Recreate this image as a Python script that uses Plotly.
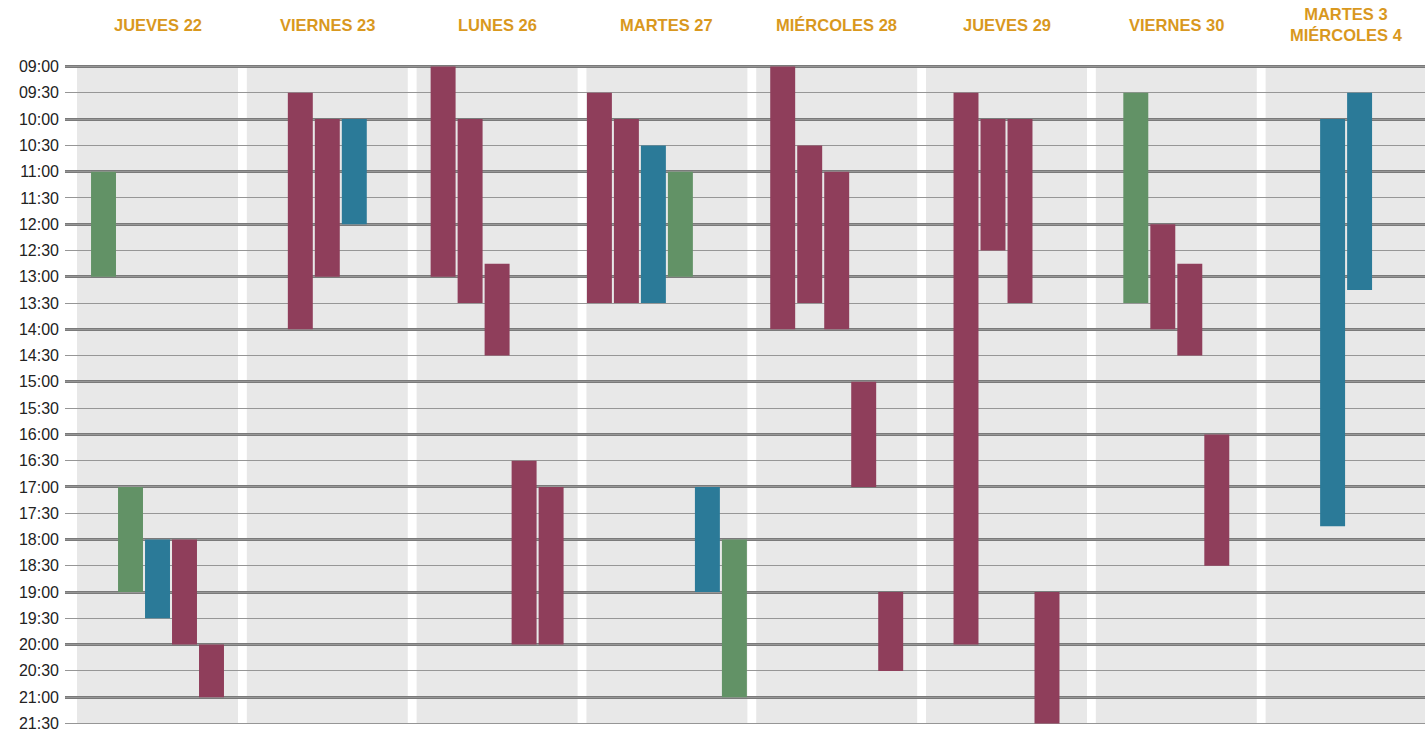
import plotly.graph_objects as go

# ---- data ----
days = ["JUEVES 22", "VIERNES 23", "LUNES 26", "MARTES 27", "MIÉRCOLES 28",
        "JUEVES 29", "VIERNES 30", "MARTES 3<br>MIÉRCOLES 4"]

# one entry per bar (in left-to-right order within each day)
bar_day = [0, 0, 0, 0, 0,
           1, 1, 1,
           2, 2, 2, 2, 2,
           3, 3, 3, 3, 3, 3,
           4, 4, 4, 4, 4,
           5, 5, 5, 5,
           6, 6, 6, 6,
           7, 7]
bar_start = [11, 17, 18, 18, 20,
             9.5, 10, 10,
             9, 10, 12.75, 16.5, 17,
             9.5, 10, 10.5, 11, 17, 18,
             9, 10.5, 11, 15, 19,
             9.5, 10, 10, 19,
             9.5, 12, 12.75, 16,
             10, 9.5]
bar_end = [13, 19, 19.5, 20, 21,
           14, 13, 12,
           13, 13.5, 14.5, 20, 20,
           13.5, 13.5, 13.5, 13, 19, 21,
           14, 13.5, 14, 17, 20.5,
           20, 12.5, 13.5, 21.5,
           13.5, 14, 14.5, 18.5,
           17.75, 13.25]
bar_type = ["g", "g", "b", "m", "m",
            "m", "m", "b",
            "m", "m", "m", "m", "m",
            "m", "m", "b", "g", "b", "g",
            "m", "m", "m", "m", "m",
            "m", "m", "m", "m",
            "g", "m", "m", "m",
            "b", "b"]

type_colors = {"m": "#8F3E5B", "b": "#2B7A98", "g": "#629266"}

tick_vals = [9 + 0.5 * i for i in range(26)]
tick_text = [f"{int(v):02d}:{'30' if v % 1 else '00'}" for v in tick_vals]
hour_vals = [v for v in tick_vals if v % 1 == 0]

# ---- layout geometry ----
STEP = 0.159
BAR_W = 0.147
COL_HALF = 0.474

counts = {}
for d in bar_day:
    counts[d] = counts.get(d, 0) + 1
seen = {}
bar_x = []
for d in bar_day:
    k = seen.get(d, 0)
    seen[d] = k + 1
    n = counts[d]
    bar_x.append(d + (k - (n - 1) / 2) * STEP)

fig = go.Figure()
for t in ["m", "b", "g"]:
    idx = [i for i, tt in enumerate(bar_type) if tt == t]
    fig.add_trace(go.Bar(
        x=[bar_x[i] for i in idx],
        base=[bar_start[i] for i in idx],
        y=[bar_end[i] - bar_start[i] for i in idx],
        width=BAR_W,
        marker=dict(color=type_colors[t], line=dict(width=0)),
        showlegend=False,
        hoverinfo="skip",
    ))

shapes = []
for d in range(len(days)):
    shapes.append(dict(type="rect", xref="x", yref="y",
                       x0=d - COL_HALF, x1=d + COL_HALF, y0=9, y1=21.5,
                       fillcolor="#E8E8E8", line=dict(width=0), layer="below"))

annotations = []
for d, name in enumerate(days):
    annotations.append(dict(x=d, xref="x", y=1.0613, yref="paper",
                            text=f"<b>{name}</b>", showarrow=False,
                            xanchor="center", yanchor="middle",
                            font=dict(size=16.5, color="#D9981E",
                                      family="Arial, Liberation Sans, sans-serif")))

fig.update_layout(
    width=1425, height=733,
    margin=dict(l=65, r=0, t=65.4, b=8.4),
    plot_bgcolor="white", paper_bgcolor="white",
    barmode="overlay",
    font=dict(family="Arial, Liberation Sans, sans-serif", color="#222222"),
    xaxis=dict(range=[-0.5448, 7.4647], showgrid=False, zeroline=False,
               showticklabels=False, fixedrange=True),
    yaxis=dict(range=[21.53, 8.97], tickvals=tick_vals, ticktext=tick_text,
               showgrid=True, gridcolor="#969696", gridwidth=1.3,
               minor=dict(tickvals=hour_vals, showgrid=True,
                          gridcolor="#7a7a7a", gridwidth=2.5),
               zeroline=False, ticks="",
               tickfont=dict(size=16, color="#222222"), ticklabelstandoff=5,
               fixedrange=True),
    shapes=shapes,
    annotations=annotations,
)

fig.write_html("out.html", config={"displayModeBar": False},
               post_script="document.body.style.margin='0';document.body.style.overflow='hidden';")
